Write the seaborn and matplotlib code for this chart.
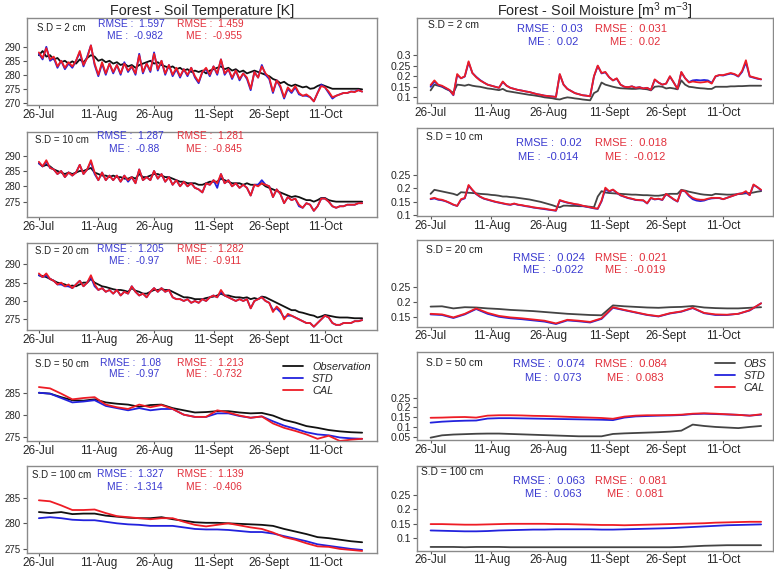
import numpy as np
import pandas as pd
import matplotlib
matplotlib.use('Agg')
import matplotlib.pyplot as plt
import seaborn as sns

sns.set_style('white')
plt.rcParams['font.family'] = ['Liberation Sans', 'DejaVu Sans']
plt.rcParams['mathtext.fontset'] = 'custom'
plt.rcParams['mathtext.rm'] = 'Liberation Sans'
plt.rcParams['mathtext.it'] = 'Liberation Sans:italic'

# ---------------- data ----------------
start = '2015-07-26'
dates_daily = pd.date_range(start, periods=88, freq='D')
dates_3d = pd.date_range(start, periods=30, freq='3D')

tick_dates = ['2015-07-26', '2015-08-11', '2015-08-26', '2015-09-11', '2015-09-26', '2015-10-11']
tick_labels = ['26-Jul', '11-Aug', '26-Aug', '11-Sept', '26-Sept', '11-Oct']

depths = ['2 cm', '10 cm', '20 cm', '50 cm', '100 cm']

# Soil temperature, 2 cm (daily)
t2_obs = [287.0, 288.5, 286.5, 287.0, 285.5, 286.0, 284.5, 285.0, 284.0, 284.8,
          284.0, 285.5, 284.5, 286.0, 287.0, 286.5, 285.0, 285.5, 284.5, 285.0,
          284.0, 284.5, 283.5, 284.0, 283.0, 283.5, 282.5, 283.5, 284.0, 284.5,
          285.0, 284.0, 284.5, 283.5, 283.0, 282.5, 283.0, 282.0, 282.5, 281.5,
          282.0, 281.0, 281.5, 281.0, 281.5, 280.5, 281.5, 282.0, 282.5, 283.0,
          282.0, 282.5, 281.5, 282.0, 281.0, 281.5, 280.5, 281.0, 281.5, 281.0,
          280.5, 280.0, 279.5, 278.5, 278.0, 277.0, 277.5, 276.5, 276.0, 276.5,
          276.0, 275.5, 275.8, 275.0, 275.2, 276.0, 276.5, 276.0, 275.5, 275.0,
          275.0, 275.0, 275.0, 275.0, 275.0, 275.0, 275.0, 274.8]
t2_std = [287.5, 285.5, 290.0, 285.0, 286.0, 282.5, 285.0, 282.0, 284.0, 282.5,
          285.0, 288.0, 283.0, 286.5, 290.5, 283.5, 279.5, 284.0, 280.0, 284.0,
          280.5, 283.5, 280.0, 284.5, 281.0, 283.0, 280.0, 287.5, 280.5, 284.0,
          281.0, 288.0, 281.5, 285.0, 280.0, 283.5, 279.5, 282.0, 279.0, 282.0,
          279.5, 282.5, 279.0, 277.0, 281.0, 282.0, 279.5, 283.0, 280.0, 285.5,
          280.0, 282.0, 278.5, 281.5, 278.0, 280.5, 278.5, 274.5, 281.0, 279.0,
          283.5, 280.0, 278.5, 273.5, 278.0, 275.5, 271.5, 275.0, 273.5, 275.5,
          273.0, 272.5, 272.5, 272.0, 270.5, 273.5, 276.5, 275.5, 273.5, 271.5,
          272.5, 273.0, 273.5, 273.5, 274.0, 274.0, 274.5, 274.0]
t2_cal = [288.0, 286.0, 289.5, 285.5, 286.5, 283.0, 285.0, 282.5, 284.5, 283.0,
          285.0, 288.5, 283.5, 286.0, 290.5, 284.0, 280.0, 284.5, 280.5, 284.0,
          281.0, 283.5, 280.5, 284.0, 281.5, 283.0, 280.5, 287.0, 281.0, 284.0,
          281.5, 287.5, 282.0, 285.0, 280.5, 283.5, 280.0, 282.5, 279.5, 282.0,
          280.0, 282.5, 279.5, 277.5, 281.0, 282.5, 280.0, 283.0, 280.5, 285.5,
          280.5, 282.0, 279.0, 281.5, 278.5, 280.5, 279.0, 275.0, 281.0, 279.0,
          283.0, 280.5, 279.0, 274.0, 278.0, 276.0, 272.0, 275.5, 274.0, 276.0,
          273.5, 272.5, 273.0, 272.0, 270.5, 273.5, 276.0, 275.5, 274.0, 272.0,
          272.5, 273.0, 273.5, 273.5, 274.0, 273.8, 274.5, 274.0]

# Soil temperature, 10 cm (daily)
t10_obs = [287.5, 286.5, 287.0, 286.5, 285.5, 285.0, 284.5, 284.0, 284.5, 284.0,
           284.5, 285.0, 285.0, 285.5, 286.0, 284.5, 284.0, 283.5, 283.5, 283.0,
           283.5, 283.0, 283.0, 282.5, 282.5, 283.0, 282.5, 284.0, 283.0, 283.0,
           283.5, 284.0, 284.0, 283.5, 283.0, 283.0, 282.5, 282.0, 281.5, 281.5,
           281.0, 281.0, 281.0, 280.5, 280.5, 281.0, 281.5, 281.5, 281.5, 282.5,
           282.0, 281.5, 281.0, 281.0, 281.0, 280.5, 281.0, 280.5, 280.5, 280.5,
           281.0, 280.0, 279.5, 279.0, 278.5, 278.0, 277.5, 277.0, 276.5, 276.8,
           276.5, 276.0, 275.5, 275.5, 275.0, 275.5, 276.2, 276.2, 275.5, 275.2,
           275.0, 275.0, 275.0, 275.0, 275.0, 275.0, 275.0, 275.0]
t10_std = [287.5, 286.5, 288.0, 286.0, 285.5, 284.0, 285.0, 283.0, 284.5, 283.5,
           284.5, 287.0, 284.0, 285.5, 288.0, 284.0, 282.0, 284.5, 282.0, 283.5,
           282.0, 283.5, 281.5, 283.5, 281.5, 283.0, 281.0, 285.5, 282.0, 283.0,
           282.0, 285.0, 282.5, 284.0, 281.5, 283.0, 280.5, 282.0, 280.0, 281.5,
           280.0, 281.0, 279.5, 279.0, 278.0, 281.0, 280.5, 282.0, 279.5, 284.0,
           281.0, 282.0, 280.0, 281.0, 279.5, 280.5, 279.5, 277.0, 280.5, 280.5,
           282.0, 280.5, 280.0, 276.5, 279.0, 277.5, 274.5, 276.5, 275.5, 276.0,
           273.5, 273.0, 274.5, 274.0, 272.0, 273.5, 276.0, 276.0, 275.0, 273.5,
           273.0, 273.5, 273.5, 274.0, 274.0, 274.0, 274.5, 274.5]
t10_cal = [288.0, 286.5, 288.5, 286.0, 285.5, 284.0, 285.0, 283.0, 284.5, 283.5,
           284.5, 287.0, 284.0, 285.5, 288.5, 284.5, 282.0, 284.5, 282.0, 283.5,
           282.0, 283.5, 281.5, 283.5, 282.0, 283.0, 281.0, 285.5, 282.0, 283.0,
           282.0, 285.0, 282.5, 284.0, 281.5, 283.0, 280.5, 282.0, 280.0, 281.5,
           280.0, 281.0, 279.5, 279.0, 278.0, 281.0, 280.5, 282.0, 281.0, 284.0,
           281.0, 282.0, 280.0, 281.0, 279.5, 280.5, 279.5, 277.0, 280.5, 280.0,
           281.0, 280.5, 280.0, 276.5, 279.0, 277.5, 274.5, 276.5, 275.5, 276.0,
           274.0, 273.0, 274.5, 274.0, 272.0, 273.5, 276.0, 276.0, 275.0, 273.5,
           273.0, 273.5, 273.5, 274.0, 274.0, 274.0, 274.5, 274.5]

# Soil temperature, 20 cm (daily)
t20_obs = [287.0, 286.8, 286.5, 286.0, 285.5, 285.0, 284.8, 284.5, 284.0, 284.2,
           284.0, 284.5, 285.0, 285.0, 286.0, 285.0, 284.5, 284.0, 283.8, 283.5,
           283.2, 283.0, 283.0, 282.8, 282.5, 283.5, 282.8, 282.5, 282.0, 282.0,
           282.5, 283.0, 283.0, 283.2, 283.0, 283.0, 282.5, 282.0, 281.5, 281.0,
           281.0, 280.8, 280.5, 280.5, 280.5, 280.8, 281.0, 281.2, 281.5, 282.0,
           281.5, 281.5, 281.2, 281.0, 281.0, 280.8, 281.0, 280.5, 280.8, 280.5,
           281.2, 281.0, 280.5, 280.0, 279.5, 279.0, 278.5, 278.0, 277.5, 277.5,
           277.0, 276.8, 276.5, 276.2, 276.0, 275.5, 275.8, 276.2, 276.0, 275.8,
           275.6, 275.5, 275.5, 275.5, 275.4, 275.3, 275.3, 275.3]
t20_std = [287.0, 286.5, 287.0, 286.0, 285.5, 284.5, 284.5, 284.0, 284.0, 283.5,
           284.5, 285.5, 284.0, 285.0, 286.5, 284.0, 283.0, 283.5, 282.5, 283.0,
           282.0, 283.0, 281.5, 282.5, 282.0, 284.0, 282.5, 281.5, 282.0, 281.0,
           282.5, 283.5, 282.5, 283.5, 282.5, 283.0, 281.0, 280.5, 280.5, 280.0,
           280.5, 279.5, 280.0, 279.5, 280.5, 280.0, 281.0, 281.5, 281.0, 282.5,
           281.5, 281.0, 280.5, 280.0, 280.5, 280.0, 280.5, 278.0, 280.0, 280.5,
           281.0, 280.0, 279.5, 277.5, 278.0, 277.0, 275.5, 276.0, 276.0, 275.5,
           275.0, 274.5, 274.0, 274.0, 273.0, 274.0, 275.0, 276.0, 275.5, 274.0,
           273.5, 273.5, 274.0, 274.0, 274.0, 274.5, 274.5, 274.8]
t20_cal = [287.5, 286.5, 287.5, 286.0, 285.5, 284.5, 285.0, 284.0, 284.5, 283.5,
           284.5, 285.5, 284.0, 285.0, 287.0, 284.5, 283.0, 283.5, 282.5, 283.0,
           282.0, 283.0, 281.5, 282.5, 282.0, 284.0, 282.5, 281.5, 282.0, 281.0,
           282.5, 283.5, 282.5, 283.5, 282.5, 283.0, 281.0, 280.5, 280.5, 280.0,
           280.5, 279.5, 280.0, 279.5, 280.5, 280.0, 281.0, 281.5, 281.0, 283.0,
           281.5, 281.0, 280.5, 280.0, 280.5, 280.0, 280.5, 278.0, 280.0, 280.5,
           281.0, 280.0, 279.5, 277.0, 278.5, 277.5, 275.0, 276.5, 276.0, 275.5,
           275.0, 274.5, 274.0, 274.0, 273.0, 274.0, 275.0, 276.0, 275.5, 274.0,
           273.5, 273.5, 274.0, 274.0, 274.0, 274.5, 274.5, 274.8]

# Soil temperature, 50 cm and 100 cm (every 3 days)
t50_obs = [285.0, 284.8, 284.0, 283.3, 283.2, 283.5, 282.8, 282.5, 282.3, 281.8,
           282.2, 282.3, 281.5, 281.0, 280.5, 280.6, 280.8, 280.8, 280.5, 280.3,
           280.4, 279.8, 278.8, 278.2, 277.4, 277.0, 276.5, 276.2, 276.0, 275.9]
t50_std = [285.0, 284.8, 283.8, 282.8, 283.0, 283.3, 282.0, 281.5, 281.0, 281.5,
           281.0, 281.3, 281.3, 280.0, 279.5, 279.5, 280.3, 280.3, 279.7, 279.3,
           279.6, 278.5, 277.5, 276.8, 276.0, 275.5, 275.3, 274.8, 274.6, 274.5]
t50_cal = [286.3, 286.0, 284.8, 283.5, 283.8, 284.0, 282.3, 281.7, 281.3, 282.3,
           281.7, 282.2, 281.3, 280.0, 279.5, 279.5, 281.0, 280.5, 279.8, 279.3,
           279.6, 278.0, 277.0, 276.3, 275.5, 274.5, 275.2, 274.0, 274.3, 274.5]
t100_obs = [282.2, 282.0, 282.2, 281.8, 281.9, 281.9, 281.5, 281.3, 281.1, 281.0,
            281.0, 281.2, 280.8, 280.5, 280.2, 280.1, 280.1, 280.0, 279.9, 279.8,
            279.7, 279.5, 278.9, 278.4, 277.9, 277.3, 277.1, 276.8, 276.5, 276.3]
t100_std = [281.0, 281.2, 281.0, 280.7, 280.6, 280.6, 280.3, 280.0, 279.8, 279.7,
            279.5, 279.5, 279.5, 279.2, 278.9, 278.8, 278.8, 278.7, 278.5, 278.3,
            278.3, 278.0, 277.5, 277.0, 276.5, 275.9, 275.6, 275.3, 275.0, 274.8]
t100_cal = [284.5, 284.3, 283.5, 282.6, 282.6, 282.7, 282.0, 281.4, 281.2, 281.0,
            280.8, 281.0, 281.0, 280.3, 279.7, 279.4, 279.7, 280.0, 279.6, 279.2,
            278.9, 278.2, 277.3, 276.8, 276.1, 275.5, 275.4, 275.0, 274.8, 274.6]

# Soil moisture, 2 cm (daily)
m2_obs = [0.133, 0.160, 0.155, 0.150, 0.140, 0.132, 0.122, 0.160, 0.158, 0.155,
          0.160, 0.155, 0.152, 0.150, 0.146, 0.142, 0.140, 0.137, 0.134, 0.140,
          0.130, 0.127, 0.124, 0.121, 0.118, 0.115, 0.112, 0.110, 0.107, 0.104,
          0.100, 0.098, 0.096, 0.092, 0.090, 0.096, 0.100, 0.098, 0.095, 0.093,
          0.090, 0.088, 0.086, 0.120, 0.130, 0.170, 0.160, 0.155, 0.150, 0.146,
          0.143, 0.142, 0.141, 0.140, 0.140, 0.142, 0.140, 0.138, 0.133, 0.150,
          0.152, 0.150, 0.142, 0.145, 0.142, 0.138, 0.180, 0.160, 0.150, 0.148,
          0.145, 0.143, 0.142, 0.140, 0.140, 0.150, 0.150, 0.150, 0.150, 0.152,
          0.152, 0.153, 0.153, 0.154, 0.155, 0.155, 0.155, 0.155]
m2_std = [0.150, 0.175, 0.158, 0.152, 0.143, 0.133, 0.110, 0.205, 0.190, 0.198,
          0.265, 0.215, 0.197, 0.182, 0.170, 0.160, 0.155, 0.150, 0.145, 0.172,
          0.155, 0.145, 0.140, 0.135, 0.132, 0.128, 0.125, 0.120, 0.115, 0.112,
          0.108, 0.106, 0.104, 0.102, 0.208, 0.160, 0.140, 0.130, 0.120, 0.115,
          0.110, 0.108, 0.105, 0.198, 0.248, 0.213, 0.218, 0.195, 0.180, 0.188,
          0.160, 0.150, 0.148, 0.152, 0.145, 0.148, 0.142, 0.145, 0.135, 0.183,
          0.170, 0.160, 0.165, 0.198, 0.170, 0.140, 0.218, 0.190, 0.172, 0.180,
          0.182, 0.180, 0.182, 0.180, 0.168, 0.198, 0.205, 0.203, 0.208, 0.212,
          0.208, 0.198, 0.220, 0.265, 0.198, 0.193, 0.188, 0.185]
m2_cal = [0.158, 0.180, 0.160, 0.155, 0.145, 0.135, 0.112, 0.210, 0.190, 0.200,
          0.270, 0.215, 0.195, 0.180, 0.170, 0.160, 0.155, 0.150, 0.145, 0.175,
          0.155, 0.145, 0.140, 0.135, 0.132, 0.128, 0.125, 0.120, 0.115, 0.112,
          0.108, 0.106, 0.104, 0.102, 0.210, 0.160, 0.140, 0.130, 0.120, 0.115,
          0.110, 0.108, 0.105, 0.200, 0.250, 0.215, 0.220, 0.195, 0.180, 0.190,
          0.160, 0.150, 0.148, 0.152, 0.145, 0.148, 0.142, 0.145, 0.135, 0.185,
          0.170, 0.160, 0.165, 0.200, 0.170, 0.140, 0.220, 0.190, 0.170, 0.175,
          0.172, 0.170, 0.172, 0.175, 0.165, 0.200, 0.205, 0.205, 0.210, 0.215,
          0.210, 0.200, 0.225, 0.275, 0.200, 0.195, 0.190, 0.185]

# Soil moisture, 10 cm (daily)
m10_obs = [0.180, 0.195, 0.192, 0.189, 0.186, 0.183, 0.180, 0.175, 0.186, 0.185,
           0.184, 0.183, 0.182, 0.180, 0.179, 0.178, 0.176, 0.175, 0.173, 0.170,
           0.170, 0.168, 0.167, 0.165, 0.163, 0.161, 0.159, 0.156, 0.153, 0.150,
           0.146, 0.142, 0.138, 0.133, 0.130, 0.136, 0.136, 0.135, 0.135, 0.134,
           0.134, 0.133, 0.132, 0.130, 0.170, 0.190, 0.185, 0.183, 0.182, 0.181,
           0.180, 0.179, 0.178, 0.177, 0.177, 0.176, 0.175, 0.175, 0.174, 0.173,
           0.173, 0.175, 0.178, 0.180, 0.180, 0.180, 0.195, 0.192, 0.188, 0.185,
           0.182, 0.179, 0.177, 0.176, 0.175, 0.180, 0.179, 0.178, 0.177, 0.177,
           0.178, 0.179, 0.180, 0.182, 0.183, 0.185, 0.188, 0.190]
m10_std = [0.160, 0.163, 0.158, 0.156, 0.152, 0.146, 0.139, 0.135, 0.158, 0.163,
           0.210, 0.194, 0.179, 0.169, 0.162, 0.158, 0.154, 0.150, 0.147, 0.144,
           0.141, 0.139, 0.143, 0.139, 0.137, 0.134, 0.132, 0.129, 0.127, 0.125,
           0.123, 0.121, 0.119, 0.117, 0.155, 0.151, 0.147, 0.144, 0.141, 0.139,
           0.135, 0.132, 0.129, 0.126, 0.124, 0.152, 0.198, 0.188, 0.195, 0.184,
           0.174, 0.169, 0.164, 0.161, 0.157, 0.156, 0.155, 0.144, 0.164, 0.159,
           0.161, 0.157, 0.179, 0.169, 0.159, 0.151, 0.192, 0.189, 0.172, 0.160,
           0.155, 0.153, 0.155, 0.160, 0.163, 0.164, 0.164, 0.160, 0.165, 0.170,
           0.175, 0.180, 0.182, 0.185, 0.175, 0.213, 0.205, 0.193]
m10_cal = [0.162, 0.165, 0.160, 0.158, 0.153, 0.147, 0.140, 0.135, 0.160, 0.165,
           0.213, 0.195, 0.180, 0.170, 0.163, 0.159, 0.155, 0.151, 0.148, 0.145,
           0.142, 0.140, 0.144, 0.140, 0.138, 0.135, 0.133, 0.130, 0.128, 0.126,
           0.125, 0.122, 0.120, 0.118, 0.157, 0.152, 0.148, 0.145, 0.142, 0.140,
           0.136, 0.133, 0.130, 0.127, 0.125, 0.155, 0.203, 0.190, 0.196, 0.185,
           0.175, 0.170, 0.165, 0.162, 0.158, 0.157, 0.156, 0.145, 0.165, 0.160,
           0.162, 0.158, 0.180, 0.170, 0.160, 0.152, 0.193, 0.190, 0.175, 0.165,
           0.160, 0.158, 0.158, 0.162, 0.165, 0.165, 0.165, 0.160, 0.165, 0.170,
           0.175, 0.180, 0.182, 0.190, 0.175, 0.215, 0.205, 0.195]

# Soil moisture, 20 / 50 / 100 cm (every 3 days)
m20_obs = [0.184, 0.185, 0.178, 0.182, 0.181, 0.178, 0.176, 0.173, 0.171, 0.169,
           0.166, 0.163, 0.160, 0.158, 0.156, 0.155, 0.188, 0.185, 0.183, 0.181,
           0.180, 0.182, 0.183, 0.186, 0.181, 0.179, 0.178, 0.178, 0.180, 0.182]
m20_std = [0.158, 0.156, 0.146, 0.158, 0.176, 0.160, 0.150, 0.145, 0.142, 0.138,
           0.134, 0.126, 0.138, 0.135, 0.131, 0.143, 0.180, 0.172, 0.164, 0.156,
           0.151, 0.161, 0.167, 0.179, 0.162, 0.156, 0.156, 0.160, 0.171, 0.195]
m20_cal = [0.160, 0.158, 0.148, 0.160, 0.178, 0.163, 0.153, 0.148, 0.145, 0.141,
           0.137, 0.128, 0.140, 0.137, 0.133, 0.145, 0.182, 0.173, 0.165, 0.157,
           0.152, 0.162, 0.168, 0.180, 0.163, 0.158, 0.157, 0.160, 0.172, 0.195]
m50_obs = [0.045, 0.057, 0.061, 0.063, 0.065, 0.066, 0.066, 0.064, 0.062, 0.060,
           0.058, 0.056, 0.054, 0.052, 0.052, 0.052, 0.064, 0.067, 0.069, 0.071,
           0.073, 0.076, 0.081, 0.112, 0.105, 0.100, 0.097, 0.094, 0.100, 0.105]
m50_std = [0.122, 0.127, 0.130, 0.132, 0.133, 0.143, 0.145, 0.145, 0.144, 0.143,
           0.142, 0.141, 0.140, 0.139, 0.138, 0.137, 0.135, 0.148, 0.154, 0.156,
           0.158, 0.159, 0.161, 0.166, 0.168, 0.166, 0.164, 0.162, 0.158, 0.163]
m50_cal = [0.147, 0.148, 0.150, 0.151, 0.148, 0.158, 0.160, 0.160, 0.159, 0.157,
           0.156, 0.154, 0.152, 0.150, 0.148, 0.146, 0.142, 0.153, 0.158, 0.160,
           0.160, 0.161, 0.163, 0.168, 0.170, 0.168, 0.165, 0.162, 0.158, 0.165]
m100_obs = [0.070, 0.070, 0.070, 0.069, 0.070, 0.070, 0.070, 0.069, 0.069, 0.069,
            0.069, 0.069, 0.069, 0.069, 0.069, 0.069, 0.069, 0.069, 0.069, 0.069,
            0.069, 0.069, 0.070, 0.072, 0.074, 0.075, 0.076, 0.076, 0.076, 0.076]
m100_std = [0.127, 0.126, 0.125, 0.124, 0.124, 0.125, 0.127, 0.128, 0.129, 0.130,
            0.130, 0.131, 0.131, 0.131, 0.131, 0.130, 0.130, 0.131, 0.132, 0.133,
            0.134, 0.135, 0.137, 0.139, 0.141, 0.143, 0.145, 0.146, 0.147, 0.148]
m100_cal = [0.149, 0.149, 0.148, 0.147, 0.147, 0.148, 0.149, 0.150, 0.150, 0.150,
            0.150, 0.149, 0.149, 0.148, 0.147, 0.146, 0.146, 0.145, 0.146, 0.147,
            0.148, 0.149, 0.150, 0.151, 0.152, 0.154, 0.155, 0.156, 0.157, 0.157]

# statistics shown in each panel: (RMSE_std, ME_std, RMSE_cal, ME_cal)
temp_stats = [('1.597', '-0.982', '1.459', '-0.955'),
              ('1.287', '-0.88', '1.281', '-0.845'),
              ('1.205', '-0.97', '1.282', '-0.911'),
              ('1.08', '-0.97', '1.213', '-0.732'),
              ('1.327', '-1.314', '1.139', '-0.406')]
moist_stats = [('0.03', '0.02', '0.031', '0.02'),
               ('0.02', '-0.014', '0.018', '-0.012'),
               ('0.024', '-0.022', '0.021', '-0.019'),
               ('0.074', '0.073', '0.084', '0.083'),
               ('0.063', '0.063', '0.081', '0.081')]

temp_yticks = [[270, 275, 280, 285, 290], [275, 280, 285, 290], [275, 280, 285, 290],
               [275, 280, 285], [275, 280, 285]]
moist_yticks = [[0.1, 0.15, 0.2, 0.25, 0.3], [0.1, 0.15, 0.2, 0.25], [0.15, 0.2, 0.25],
                [0.05, 0.1, 0.15, 0.2, 0.25], [0.1, 0.15, 0.2, 0.25]]
moist_ytick_labels = [['0.1', '0.15', '0.2', '0.25', '0.3'], ['0.1', '0.15', '0.2', '0.25'],
                      ['0.15', '0.2', '0.25'], ['0.05', '0.1', '0.15', '0.2', '0.25'],
                      ['0.1', '0.15', '0.2', '0.25']]

temp_series = [(dates_daily, t2_obs, t2_std, t2_cal),
               (dates_daily, t10_obs, t10_std, t10_cal),
               (dates_daily, t20_obs, t20_std, t20_cal),
               (dates_3d, t50_obs, t50_std, t50_cal),
               (dates_3d, t100_obs, t100_std, t100_cal)]
moist_series = [(dates_daily, m2_obs, m2_std, m2_cal),
                (dates_daily, m10_obs, m10_std, m10_cal),
                (dates_3d, m20_obs, m20_std, m20_cal),
                (dates_3d, m50_obs, m50_std, m50_cal),
                (dates_3d, m100_obs, m100_std, m100_cal)]

# ---------------- layout / style ----------------
W, H = 774, 571
fig = plt.figure(figsize=(W / 100, H / 100), dpi=100)

left_rows = [(18, 105), (131.7, 217.3), (243.3, 330), (353.3, 441), (466, 553)]
right_rows = [(18.3, 103.3), (128.3, 216), (240, 326.7), (352.3, 440), (466, 550.7)]
left_x = (27, 377)
right_x = (417.3, 772.5)
temp_ylims = [(269.2, 300.3), (269.9, 297.8), (272.1, 295.7), (274.0, 294.0), (274.2, 291.2)]
moist_ylims = [(0.072, 0.473), (0.0975, 0.424), (0.117, 0.406), (0.033, 0.483), (0.057, 0.35)]

# text positions (pixels): sd, blue rmse, blue me, red rmse, red me  (x, y)
temp_text_pos = [
    [(36.7, 28.3), (97.7, 24.3), (106.7, 36), (176.7, 24.3), (185.7, 36)],
    [(35, 140), (97.3, 136), (109.3, 149), (176.7, 136), (185.7, 149)],
    [(35, 251), (97.3, 249), (109.3, 261), (176.7, 249), (185.7, 261)],
    [(35, 364), (100, 362.7), (109.3, 374.3), (176.7, 362.7), (185.7, 374.3)],
    [(32.3, 475), (97.3, 474), (106.7, 486.7), (176.7, 474), (185.7, 486.7)],
]
moist_text_pos = [
    [(428.3, 25), (516.7, 29.3), (528.3, 42.3), (595, 29.3), (610, 42.3)],
    [(425.7, 137.3), (516, 143.3), (518.3, 156.7), (595, 143.3), (605, 156.7)],
    [(425.7, 250), (513.3, 257.7), (523.3, 270), (595, 257.7), (605, 270)],
    [(425.7, 362.7), (513.3, 364.3), (525, 377.7), (595, 364.3), (606.7, 377.7)],
    [(420.7, 471.7), (513.3, 480.7), (525, 494), (595, 480.7), (606.7, 494)],
]
title_pos = [(202, 15.5), (595, 15.5)]

C_OBS_T = '#111111'
C_OBS_M = '#444444'
C_STD = '#2222dd'
C_CAL = '#ee1c25'
T_BLUE = '#3a3ad0'
T_RED = '#e2303c'
SPINE = '#8a8a8a'

xmin_left = pd.Timestamp(start) - pd.Timedelta(days=3.2)
xmax_left = pd.Timestamp(start) + pd.Timedelta(days=91)
xmin_right = pd.Timestamp(start) - pd.Timedelta(days=3.5)
xmax_right = pd.Timestamp(start) + pd.Timedelta(days=90)


def make_ax(xr, yr):
    x0, x1 = xr
    y0, y1 = yr
    return fig.add_axes([x0 / W, 1 - y1 / H, (x1 - x0) / W, (y1 - y0) / H])


def style_ax(ax, xmin, xmax, ylim, yticks, ylabels, ysize):
    ax.set_xlim(xmin, xmax)
    ax.set_ylim(*ylim)
    ax.set_xticks(pd.to_datetime(tick_dates))
    ax.set_xticklabels(tick_labels, fontsize=8.5)
    ax.set_yticks(yticks)
    ax.set_yticklabels(ylabels, fontsize=ysize)
    ax.set_xlabel('')
    ax.set_ylabel('')
    ax.tick_params(axis='both', which='both', direction='out', length=3, width=0.8,
                   color='#555555', pad=1.5, bottom=True, left=True, top=False, right=False)
    ax.tick_params(axis='x', length=2, pad=0.6)
    for sp in ax.spines.values():
        sp.set_color(SPINE)
        sp.set_linewidth(1.0)
    ax.set_facecolor('white')


def put_text(pos, sd, stats, fs_sd, fs_st):
    (xs, ys), (xb1, yb1), (xb2, yb2), (xr1, yr1), (xr2, yr2) = pos
    fig.text(xs / W, 1 - ys / H, 'S.D = ' + sd, fontsize=fs_sd, color='#222222', va='center', ha='left')
    fig.text(xb1 / W, 1 - yb1 / H, 'RMSE :  ' + stats[0], fontsize=fs_st, color=T_BLUE, va='center', ha='left')
    fig.text(xb2 / W, 1 - yb2 / H, 'ME :  ' + stats[1], fontsize=fs_st, color=T_BLUE, va='center', ha='left')
    fig.text(xr1 / W, 1 - yr1 / H, 'RMSE :  ' + stats[2], fontsize=fs_st, color=T_RED, va='center', ha='left')
    fig.text(xr2 / W, 1 - yr2 / H, 'ME :  ' + stats[3], fontsize=fs_st, color=T_RED, va='center', ha='left')


legend_kw = dict(loc='upper left', frameon=False, prop={'style': 'italic', 'size': 7.8},
                 handlelength=1.9, handletextpad=0.8, labelspacing=0.2,
                 borderpad=0, borderaxespad=0)

for i in range(5):
    # ---- temperature ----
    ax = make_ax(left_x, left_rows[i])
    d, o, s, c = temp_series[i]
    sns.lineplot(x=d, y=o, ax=ax, color=C_OBS_T, linewidth=1.3, label='Observation', legend=False)
    sns.lineplot(x=d, y=s, ax=ax, color=C_STD, linewidth=1.3, label='STD', legend=False)
    sns.lineplot(x=d, y=c, ax=ax, color=C_CAL, linewidth=1.3, label='CAL', legend=False)
    style_ax(ax, xmin_left, xmax_left, temp_ylims[i], temp_yticks[i],
             [str(v) for v in temp_yticks[i]], 7.0)
    put_text(temp_text_pos[i], depths[i], temp_stats[i], 7.0, 7.4)
    if i == 3:
        ax.legend(bbox_to_anchor=(0.7306, 0.905), **legend_kw)

    # ---- moisture ----
    ax = make_ax(right_x, right_rows[i])
    d, o, s, c = moist_series[i]
    sns.lineplot(x=d, y=o, ax=ax, color=C_OBS_M, linewidth=1.3, label='OBS', legend=False)
    sns.lineplot(x=d, y=s, ax=ax, color=C_STD, linewidth=1.3, label='STD', legend=False)
    sns.lineplot(x=d, y=c, ax=ax, color=C_CAL, linewidth=1.3, label='CAL', legend=False)
    style_ax(ax, xmin_right, xmax_right, moist_ylims[i], moist_yticks[i],
             moist_ytick_labels[i], 7.6)
    put_text(moist_text_pos[i], depths[i], moist_stats[i], 7.4, 8.0)
    if i == 3:
        ax.legend(bbox_to_anchor=(0.837, 0.925), **legend_kw)

fig.text(title_pos[0][0] / W, 1 - title_pos[0][1] / H, 'Forest - Soil Temperature [K]',
         fontsize=10.4, ha='center', va='baseline')
fig.text(title_pos[1][0] / W, 1 - title_pos[1][1] / H, 'Forest - Soil Moisture [m$^3$ m$^{-3}$]',
         fontsize=10.4, ha='center', va='baseline')

fig.savefig('out.png', dpi=100, facecolor='white')
